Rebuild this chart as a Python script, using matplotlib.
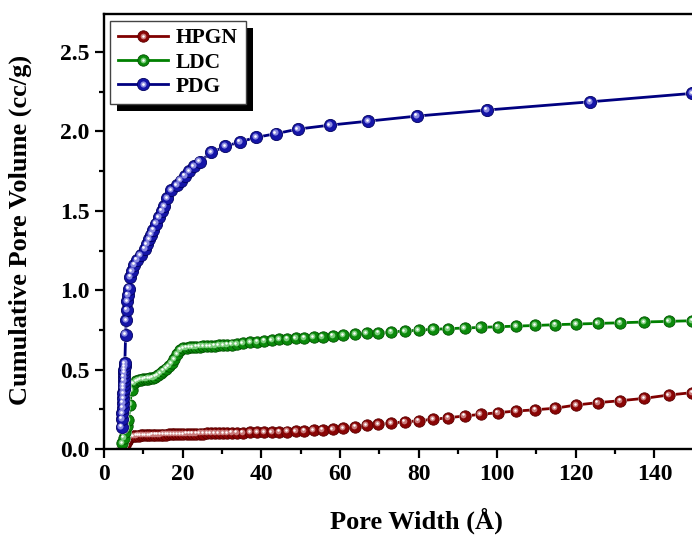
import matplotlib
matplotlib.use("Agg")
import matplotlib.pyplot as plt
from matplotlib.lines import Line2D
from matplotlib.patches import Rectangle
from matplotlib.transforms import offset_copy, IdentityTransform
from matplotlib.legend_handler import HandlerTuple
from matplotlib.ticker import MultipleLocator

plt.rcParams['font.family'] = ['Liberation Serif', 'DejaVu Serif']
plt.rcParams['font.weight'] = 'bold'

# ---------------- data ----------------
series_names = ["HPGN", "LDC", "PDG"]

width_grid = [4.6, 5.0, 5.4, 5.8, 6.2, 6.6, 7.0, 7.6, 8.2, 8.8, 9.4, 10.0, 10.6, 11.2, 11.8,
              12.4, 13.0, 13.7, 14.4, 15.1, 15.8, 16.5, 17.2, 17.9, 18.6, 19.4, 20.2, 21.0,
              21.8, 22.6, 23.5, 24.4, 25.3, 26.2, 27.2, 28.2, 29.2, 30.3, 31.4, 32.5, 33.8,
              35.3, 37.2, 39.0, 40.7, 42.7, 44.6, 46.6, 48.8, 51.0, 53.3, 55.6, 58.2, 60.9,
              63.9, 66.8, 69.8, 73.0, 76.5, 80.0, 83.8, 87.6, 91.7, 95.8, 100.2, 104.8,
              109.7, 114.8, 120.1, 125.6, 131.3, 137.4, 143.7, 149.6]

hpgn_volume = [0.000, 0.005, 0.025, 0.048, 0.065, 0.074, 0.079, 0.082, 0.084, 0.085, 0.086,
               0.087, 0.087, 0.088, 0.088, 0.089, 0.089, 0.090, 0.090, 0.091, 0.091, 0.092,
               0.092, 0.093, 0.093, 0.094, 0.094, 0.095, 0.095, 0.096, 0.096, 0.097, 0.097,
               0.098, 0.098, 0.099, 0.099, 0.100, 0.100, 0.101, 0.102, 0.103, 0.104, 0.105,
               0.106, 0.107, 0.108, 0.110, 0.112, 0.115, 0.117, 0.120, 0.124, 0.131, 0.140,
               0.149, 0.157, 0.163, 0.171, 0.178, 0.187, 0.197, 0.208, 0.218, 0.229, 0.239,
               0.247, 0.257, 0.277, 0.292, 0.304, 0.319, 0.340, 0.355]

ldc_volume = [0.036, 0.070, 0.110, 0.145, 0.180, 0.280, 0.370, 0.415, 0.428, 0.433, 0.437,
              0.440, 0.442, 0.444, 0.446, 0.449, 0.454, 0.463, 0.477, 0.492, 0.507, 0.522,
              0.541, 0.565, 0.598, 0.625, 0.634, 0.638, 0.640, 0.642, 0.644, 0.645, 0.646,
              0.647, 0.648, 0.650, 0.652, 0.654, 0.656, 0.658, 0.661, 0.666, 0.671, 0.676,
              0.681, 0.686, 0.690, 0.694, 0.697, 0.700, 0.703, 0.707, 0.713, 0.718, 0.724,
              0.728, 0.732, 0.738, 0.743, 0.749, 0.754, 0.758, 0.762, 0.766, 0.770, 0.774,
              0.778, 0.783, 0.787, 0.791, 0.795, 0.800, 0.804, 0.808]

pdg_width = [4.5, 4.6, 4.7, 4.8, 4.8, 4.9, 4.9, 5.0, 5.0, 5.1, 5.1, 5.2, 5.2, 5.3, 5.3,
             5.5, 5.7, 5.8, 5.9, 6.1, 6.3, 6.7, 7.1, 7.7, 8.4, 9.3, 10.4, 10.9, 11.5, 12.0,
             12.5, 13.2, 14.0, 14.7, 15.3, 16.1, 17.1, 18.5, 19.5, 20.6, 21.7, 22.9, 24.3,
             27.3, 30.9, 34.6, 38.7, 43.7, 49.3, 57.5, 67.2, 79.6, 97.4, 123.7, 149.6]
pdg_volume = [0.14, 0.19, 0.225, 0.26, 0.29, 0.32, 0.35, 0.38, 0.40, 0.43, 0.455, 0.48,
              0.50, 0.52, 0.54, 0.72, 0.81, 0.875, 0.93, 0.97, 1.01, 1.085, 1.12, 1.16,
              1.19, 1.22, 1.26, 1.29, 1.32, 1.35, 1.38, 1.42, 1.46, 1.50, 1.53, 1.58, 1.63,
              1.66, 1.69, 1.72, 1.75, 1.78, 1.81, 1.868, 1.906, 1.935, 1.963, 1.986, 2.015,
              2.04, 2.065, 2.097, 2.135, 2.187, 2.24]

x_ticks = [0, 20, 40, 60, 80, 100, 120, 140]
y_ticks = [0.0, 0.5, 1.0, 1.5, 2.0, 2.5]

# ---------------- styling ----------------
line_colors = ["#800000", "#008000", "#000080"]
base_colors = ["#8a0505", "#0b8a0b", "#1515a8"]
dark_colors = ["#5a0000", "#005200", "#000060"]
light_colors = ["#c87a7a", "#7ccc7c", "#8a8ae0"]
marker_sizes = [8.2, 8.2, 8.8]

fig = plt.figure(figsize=(6.92, 5.37), dpi=100)
ax = fig.add_axes([104 / 692, 88 / 537, 589.7 / 692, 435 / 537])


def sphere_series(xv, yv, i, z):
    ms = marker_sizes[i]
    ax.plot(xv, yv, '-', color=line_colors[i], lw=2.0, zorder=z)
    ax.plot(xv, yv, 'o', ls='none', ms=ms + 1.2, mfc='white', mec='none', zorder=z + 0.1)
    ax.plot(xv, yv, 'o', ls='none', ms=ms, mfc=base_colors[i], mec=dark_colors[i],
            mew=0.6, zorder=z + 0.2)
    tr1 = offset_copy(ax.transData, fig=fig, x=-ms * 0.10, y=ms * 0.10, units='points')
    ax.plot(xv, yv, 'o', ls='none', ms=ms * 0.5, mfc=light_colors[i], mec='none',
            transform=tr1, zorder=z + 0.3)
    tr2 = offset_copy(ax.transData, fig=fig, x=-ms * 0.13, y=ms * 0.13, units='points')
    ax.plot(xv, yv, 'o', ls='none', ms=ms * 0.22, mfc='white', mec='none',
            transform=tr2, zorder=z + 0.4)


sphere_series(width_grid, hpgn_volume, 0, 1)
sphere_series(width_grid, ldc_volume, 1, 2)
sphere_series(pdg_width, pdg_volume, 2, 3)

ax.set_xlim(0, 150)
ax.set_ylim(0, 2.74)
ax.set_xticks(x_ticks)
ax.set_yticks(y_ticks)
ax.set_yticklabels([f"{v:.1f}" for v in y_ticks])
ax.xaxis.set_minor_locator(MultipleLocator(10))
ax.yaxis.set_minor_locator(MultipleLocator(0.25))
ax.tick_params(axis='both', which='major', direction='out', length=6.5, width=1.6,
               labelsize=17, pad=4)
ax.tick_params(axis='both', which='minor', direction='out', length=3.5, width=1.6)
ax.tick_params(top=False, right=False, which='both')
for lab in ax.get_xticklabels() + ax.get_yticklabels():
    lab.set_fontweight('bold')
for s in ax.spines.values():
    s.set_linewidth(1.7)

ax.set_xlabel("Pore Width (Å)", fontsize=19, fontweight='bold')
ax.set_ylabel("Cumulative Pore Volume (cc/g)", fontsize=19, fontweight='bold')
ax.xaxis.set_label_coords(0.529, -0.135)
ax.yaxis.set_label_coords(-0.122, 0.503)

# legend
handles = []
for i in range(3):
    ms = marker_sizes[i]
    h1 = Line2D([], [], color=line_colors[i], lw=2.0, marker='o', ms=ms,
                mfc=base_colors[i], mec=dark_colors[i], mew=0.6)
    h2 = Line2D([], [], ls='none', marker='o', ms=ms * 0.5, mfc=light_colors[i], mec='none')
    h3 = Line2D([], [], ls='none', marker='o', ms=ms * 0.22, mfc='white', mec='none')
    handles.append((h1, h2, h3))
leg = ax.legend(handles, series_names, handler_map={tuple: HandlerTuple(ndivide=1, pad=0)},
                loc='upper left', bbox_to_anchor=(0.011, 0.985), borderaxespad=0,
                prop={'size': 15.5, 'weight': 'bold'}, handlelength=2.3, labelspacing=0.2,
                handletextpad=0.4, borderpad=0.35, fancybox=False, frameon=True,
                framealpha=1, numpoints=1)
leg.get_frame().set_edgecolor('#444444')
leg.get_frame().set_linewidth(1.0)
leg.set_zorder(10)

fig.canvas.draw()
bb = leg.get_window_extent()
shadow = Rectangle((bb.x0 + 7, bb.y0 - 7), bb.width, bb.height, transform=IdentityTransform(),
                   facecolor='black', edgecolor='none', zorder=9.9, clip_on=False)
ax.add_patch(shadow)

fig.savefig("out.png", dpi=100)
